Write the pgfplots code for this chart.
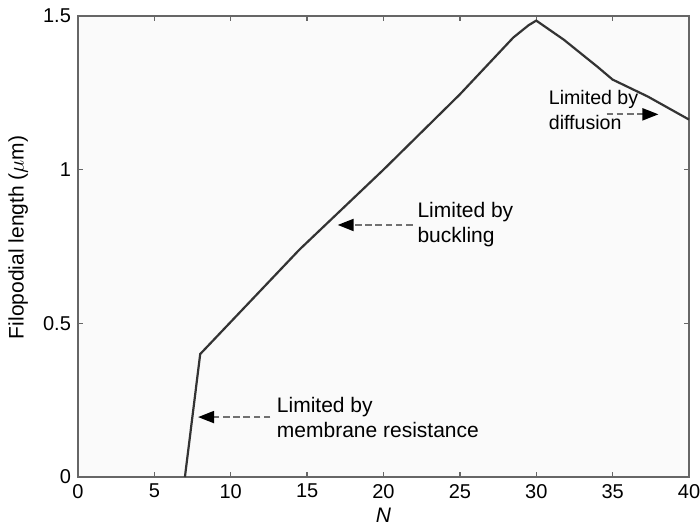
\documentclass[border=0pt]{standalone}
\usepackage{fontspec}
\setmainfont{Liberation Sans}
\usepackage{pgfplots}
\pgfplotsset{compat=1.18}
\usetikzlibrary{arrows.meta}
\definecolor{axgray}{HTML}{666666}
\definecolor{dashgray}{HTML}{707070}
\definecolor{curve}{HTML}{333333}
\definecolor{bg}{HTML}{FAFAFA}
\begin{document}
\begin{tikzpicture}
\begin{axis}[
  name=ax,
  scale only axis,
  width=305.5pt, height=230.5pt,
  xmin=0, xmax=40, ymin=0, ymax=1.5,
  xtick={0,5,...,40}, ytick={0,0.5,1,1.5},
  tick align=inside,
  major tick length=2.5pt,
  axis line style={axgray, line width=0.8pt},
  every tick/.style={axgray, line width=0.7pt},
  axis background/.style={fill=bg},
  tick label style={font=\fontsize{10}{11}\selectfont},
  /pgf/number format/assume math mode=true,
  xlabel={\textit{N}},
  ylabel={Filopodial length ($\mu$m)},
  xlabel style={font=\fontsize{10.5}{12}\selectfont, at={(axis description cs:0.5,-0.082)}, anchor=center},
  ylabel style={font=\fontsize{10.5}{12}\selectfont, at={(axis description cs:-0.098,0.52)}, anchor=center},
  clip=false,
]
\addplot[curve, line width=1.1pt] coordinates {
  (7,0) (8,0.40) (14.5,0.74) (20,1.0) (25,1.245) (28.5,1.43) (29.5,1.47) (30,1.485)
  (31.8,1.423) (34,1.335) (35,1.293) (37.3,1.238) (40,1.163)
};
\draw[dashgray, dash pattern=on 3.3pt off 1.8pt, line width=1pt, -{Triangle[length=8pt,width=6pt,fill=black,color=black]}] (axis cs:12.6,0.195) -- (axis cs:7.86,0.195);
\draw[dashgray, dash pattern=on 3.3pt off 1.8pt, line width=1pt, -{Triangle[length=8pt,width=6pt,fill=black,color=black]}] (axis cs:21.9,0.82) -- (axis cs:17.0,0.82);
\draw[dashgray, dash pattern=on 3.3pt off 1.8pt, line width=1pt, -{Triangle[length=8pt,width=6pt,fill=black,color=black]}] (axis cs:34.6,1.18) -- (axis cs:38.0,1.18);
\node[anchor=west, align=left, font=\fontsize{10.5}{12.5}\selectfont, inner sep=0pt] at (axis cs:13.0,0.195) {Limited by\\membrane resistance};
\node[anchor=west, align=left, font=\fontsize{10.5}{12.5}\selectfont, inner sep=0pt] at (axis cs:22.2,0.82) {Limited by\\buckling};
\node[anchor=west, align=left, font=\fontsize{9.8}{12.5}\selectfont, inner sep=0pt] at (axis cs:30.8,1.195) {Limited by\\diffusion};
\end{axis}
\pgfresetboundingbox
\path ([xshift=-39pt,yshift=-26pt]ax.south west) rectangle ([xshift=5.5pt,yshift=8pt]ax.north east);
\end{tikzpicture}
\end{document}
